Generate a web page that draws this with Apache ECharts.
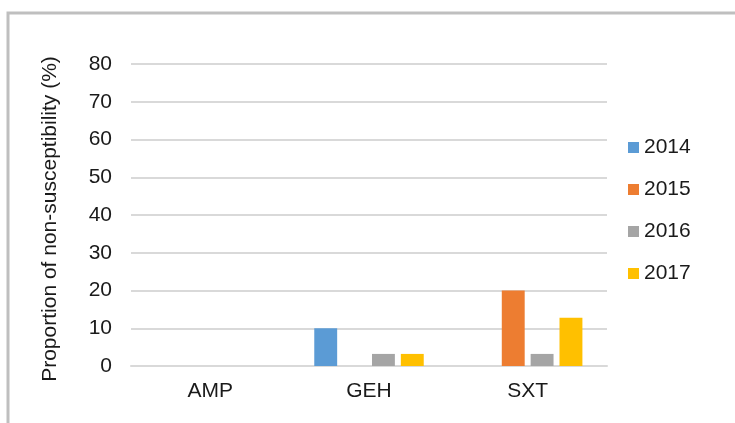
<!DOCTYPE html>
<html>
<head>
<meta charset="utf-8">
<title>Proportion of non-susceptibility</title>
<script src="https://cdn.jsdelivr.net/npm/echarts@6/dist/echarts.min.js"></script>
<style>
  html, body { margin: 0; padding: 0; background: #fff; }
  #chart { width: 735px; height: 423px; }
</style>
</head>
<body>
<div id="chart"></div>
<script>
// data
var categories = ['AMP', 'GEH', 'SXT'];
var years = ['2014', '2015', '2016', '2017'];
var values2014 = [0, 10, 0];
var values2015 = [0, 0, 20];
var values2016 = [0, 3.2, 3.2];
var values2017 = [0, 3.2, 12.8];
var colors = ['#5B9BD5', '#ED7D31', '#A5A5A5', '#FFC000'];

var seriesValues = [values2014, values2015, values2016, values2017];
var font = '"Liberation Sans", Arial, sans-serif';

var chart = echarts.init(document.getElementById('chart'));

var option = {
  animation: false,
  textStyle: { fontFamily: font },
  graphic: [{
    type: 'rect',
    shape: { x: 8, y: 13, width: 760, height: 440 },
    style: { fill: 'none', stroke: '#BFBFBF', lineWidth: 3 },
    silent: true
  }],
  grid: { left: 131, right: 128, top: 64, bottom: 57 },
  legend: {
    orient: 'vertical',
    left: 628,
    top: 137,
    padding: 0,
    itemWidth: 11,
    itemHeight: 11,
    itemGap: 21,
    icon: 'rect',
    textStyle: { fontFamily: font, fontSize: 21, color: '#1a1a1a' },
    data: years
  },
  xAxis: {
    type: 'category',
    data: categories,
    axisTick: { show: false },
    axisLine: { show: true, lineStyle: { color: '#D9D9D9', width: 2 } },
    axisLabel: { fontFamily: font, fontSize: 21, color: '#1a1a1a', margin: 15 }
  },
  yAxis: {
    type: 'value',
    min: 0,
    max: 80,
    interval: 10,
    name: 'Proportion of non-susceptibility (%)',
    nameLocation: 'middle',
    nameGap: 70,
    nameTextStyle: { fontFamily: font, fontSize: 21, color: '#1a1a1a', padding: [0, 8, 0, 0] },
    axisLine: { show: false },
    axisTick: { show: false },
    axisLabel: { fontFamily: font, fontSize: 21, color: '#1a1a1a', margin: 19 },
    splitLine: { lineStyle: { color: '#D9D9D9', width: 2 } }
  },
  series: years.map(function (y, i) {
    return {
      name: y,
      type: 'bar',
      data: seriesValues[i],
      barGap: '26%',
      barCategoryGap: '31%',
      itemStyle: { color: colors[i] }
    };
  })
};

chart.setOption(option);
</script>
</body>
</html>
